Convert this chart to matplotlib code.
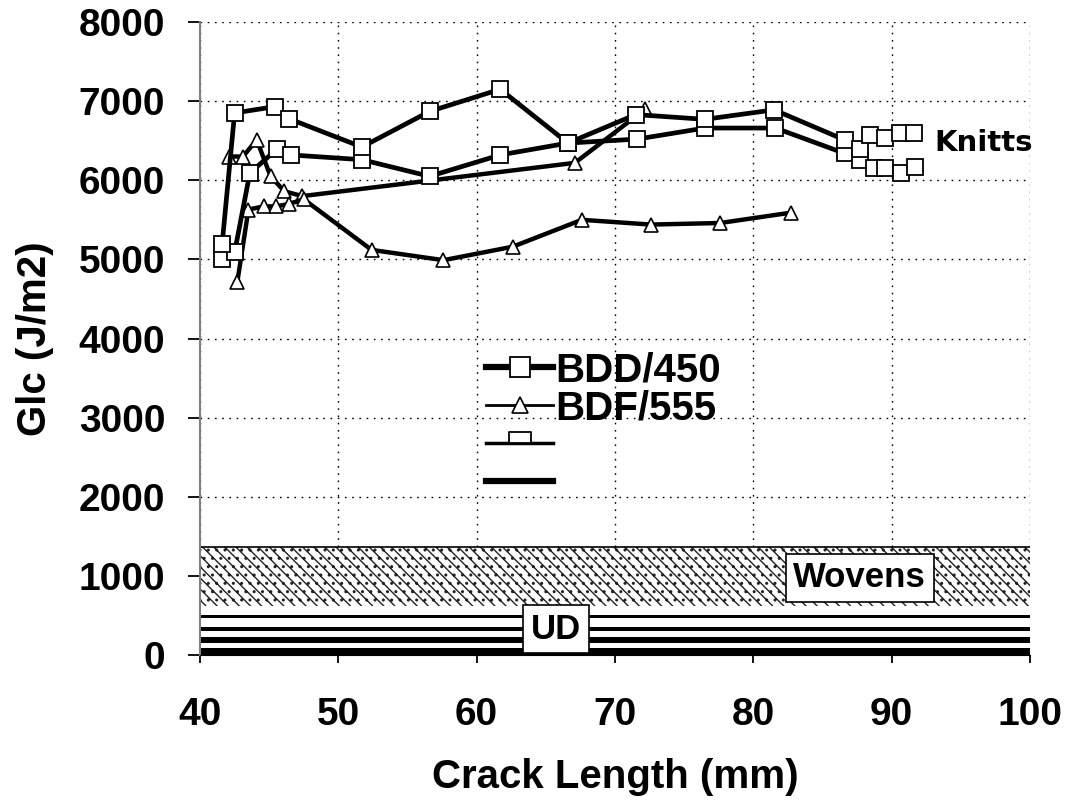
import numpy as np
import matplotlib
matplotlib.use("Agg")
import matplotlib.pyplot as plt
from matplotlib.lines import Line2D
from matplotlib.path import Path

plt.rcParams['font.family'] = ['Liberation Sans', 'DejaVu Sans']
plt.rcParams['font.weight'] = 'bold'
plt.rcParams['axes.labelweight'] = 'bold'
plt.rcParams['hatch.linewidth'] = 1.0

# BDD/450 knitted laminates (two specimens, square markers)
bdd_a_x = [41.6, 42.5, 45.4, 46.4, 51.7, 56.6, 61.7, 66.6, 71.5, 76.5, 81.5, 86.6, 87.7, 88.4, 89.5, 90.6, 91.6]
bdd_a_y = [5200, 6850, 6930, 6780, 6420, 6870, 7150, 6470, 6830, 6770, 6890, 6510, 6400, 6570, 6530, 6600, 6600]
bdd_b_x = [41.6, 42.5, 43.6, 45.6, 46.6, 51.7, 56.6, 61.7, 66.6, 71.6, 76.5, 81.6, 86.6, 87.7, 88.7, 89.5, 90.7, 91.7]
bdd_b_y = [5000, 5090, 6090, 6400, 6320, 6260, 6050, 6320, 6470, 6520, 6660, 6660, 6340, 6260, 6150, 6150, 6090, 6170]

# BDF/555 knitted laminates (two specimens, triangle markers)
bdf_a_x = [42.1, 43.1, 44.1, 45.1, 46.1, 47.4, 67.1, 72.2]
bdf_a_y = [6300, 6300, 6510, 6050, 5860, 5800, 6220, 6900]
bdf_b_x = [42.7, 43.5, 44.6, 45.5, 46.4, 47.5, 52.4, 57.6, 62.6, 67.6, 72.6, 77.6, 82.7]
bdf_b_y = [4720, 5630, 5670, 5670, 5700, 5760, 5120, 4990, 5160, 5500, 5440, 5460, 5590]

# reference GIc ranges for other reinforcements
wovens_range = (620, 1370)
ud_range = (0, 620)

legend_labels = ['BDD/450', 'BDF/555', '', '']

fig = plt.figure(figsize=(10.68, 8.06), dpi=100)
ax = fig.add_axes([0.1873, 0.1873, 0.9644 - 0.1873, 0.9727 - 0.1873])

ax.set_xlim(40, 100)
ax.set_ylim(0, 8000)
ax.set_xticks(np.arange(40, 101, 10))
ax.set_yticks(np.arange(0, 8001, 1000))
ax.set_axisbelow(True)
ax.grid(True, linestyle=(0, (1.2, 4)), color='black', lw=1.0)

# bands for woven and UD materials
ax.axhspan(*wovens_range, facecolor='white', edgecolor='#222222', hatch='\\\\\\..', lw=0, zorder=1)
ax.axhline(wovens_range[1], color='black', lw=1.2, zorder=1.1)
ax.axhspan(*ud_range, facecolor='white', lw=0, zorder=1)
ud_h = ud_range[1] - ud_range[0]
for lo, hi in [(0.755, 0.816), (0.49, 0.57), (0.245, 0.368), (0.0, 0.145)]:
    ax.axhspan(ud_range[0] + lo * ud_h, ud_range[0] + hi * ud_h, facecolor='black', lw=0, zorder=1.2)

ax.text(87.7, 975, 'Wovens', fontsize=25, ha='center', va='center', zorder=3,
        bbox=dict(boxstyle='square,pad=0.22', facecolor='white', edgecolor='black', lw=1.2))
ax.text(65.75, 329, 'UD', fontsize=25, ha='center', va='center', zorder=3,
        bbox=dict(boxstyle='square,pad=0.22', facecolor='white', edgecolor='black', lw=1.2))

sq = dict(marker='s', ms=11, mfc='white', mec='black', mew=1.3, color='black', lw=3.4, zorder=4)
tri = dict(marker='^', ms=10, mfc='white', mec='black', mew=1.2, color='black', lw=3.2, zorder=4)
ax.plot(bdf_a_x, bdf_a_y, **tri)
ax.plot(bdf_b_x, bdf_b_y, **tri)
ax.plot(bdd_b_x, bdd_b_y, **sq)
ax.plot(bdd_a_x, bdd_a_y, **sq)

ax.text(93.1, 6473, 'Knitts', family='DejaVu Sans', fontsize=21, fontweight='bold',
        ha='left', va='center', clip_on=False)

# legend
half_box = Path([(-1, 0), (1, 0), (1, 1), (-1, 1), (-1, 0)])
handles = [
    Line2D([], [], color='black', lw=4.5, marker='s', ms=15, mfc='white', mec='black', mew=1.3),
    Line2D([], [], color='black', lw=2.0, marker='^', ms=12, mfc='white', mec='black', mew=1.2),
    Line2D([], [], color='black', lw=2.5, marker=half_box, ms=16, mfc='white', mec='black', mew=1.3),
    Line2D([], [], color='black', lw=4.5),
]
ax.legend(handles, legend_labels, loc='upper left', bbox_to_anchor=(0.345, 0.48),
          frameon=False, fontsize=29, handlelength=1.65, handletextpad=0.05,
          labelspacing=0.0, borderpad=0, borderaxespad=0)

for s in ['top', 'right']:
    ax.spines[s].set_visible(False)
ax.spines['left'].set_color('#808080')
ax.spines['left'].set_linewidth(1.5)
ax.spines['bottom'].set_color('black')
ax.spines['bottom'].set_zorder(5)

ax.tick_params(axis='y', direction='out', length=9, width=1.3, pad=16, labelsize=28)
ax.tick_params(axis='x', direction='out', length=6, width=1.3, pad=24, labelsize=28)

ax.set_xlabel('Crack Length (mm)', fontsize=29, labelpad=18)
ax.set_ylabel('Glc (J/m2)', fontsize=29, labelpad=18)

fig.savefig('out.png', dpi=100, facecolor='white')
